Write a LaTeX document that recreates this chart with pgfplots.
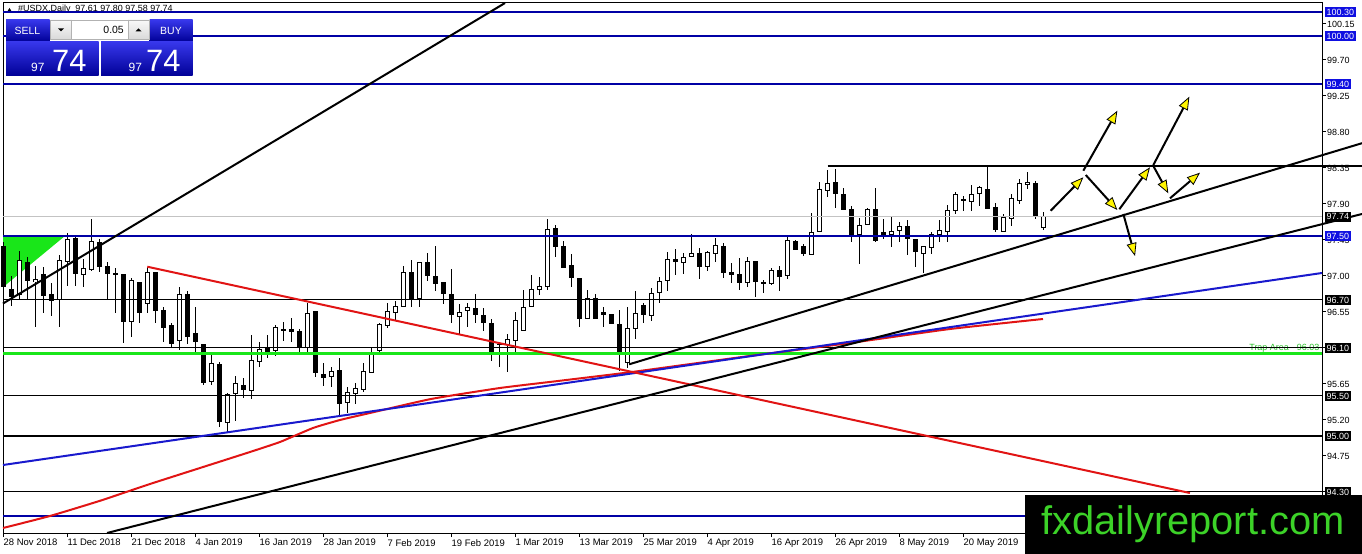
\documentclass[border=0pt]{standalone}
\usepackage{pgfplots}
\pgfplotsset{compat=1.18}
\usepackage{pgfplotstable}
\usepackage{fontspec}
\setmainfont{Liberation Sans}
\usetikzlibrary{arrows.meta}
\definecolor{navy}{RGB}{0,0,165}
\definecolor{tblue}{RGB}{25,25,205}
\definecolor{tred}{RGB}{225,20,20}
\definecolor{lgreen}{RGB}{25,230,25}
\definecolor{trapgreen}{RGB}{40,190,40}
\definecolor{boxblue}{RGB}{15,15,225}
\definecolor{logogreen}{RGB}{60,210,40}
\definecolor{arrowyellow}{RGB}{255,245,0}
\definecolor{bidgray}{RGB}{195,195,195}
\definecolor{pantop}{RGB}{55,55,235}
\definecolor{panbot}{RGB}{0,0,150}

\pgfplotstableread{
k o h l c
0 97.37 97.42 96.82 96.87
1 96.833 97.00 96.625 96.75
2 96.763 97.317 96.70 97.192
3 97.167 97.233 96.70 96.95
4 96.929 97.125 96.367 96.958
5 97.025 97.117 96.542 96.754
6 96.771 96.917 96.50 96.70
7 96.708 97.263 96.358 97.192
8 97.179 97.533 96.875 97.458
9 97.471 97.483 96.875 97.033
10 97.025 97.208 96.858 97.096
11 97.083 97.708 97.067 97.429
12 97.421 97.458 97.054 97.125
13 97.125 97.175 96.70 97.033
14 97.03 97.096 96.542 97.02
15 97.013 97.02 96.167 96.429
16 96.429 96.971 96.242 96.938
17 96.921 96.93 96.408 96.542
18 96.65 97.117 96.533 97.046
19 97.042 97.05 96.417 96.567
20 96.575 96.608 96.179 96.358
21 96.383 96.408 96.10 96.158
22 96.20 96.867 96.075 96.771
23 96.763 96.817 96.15 96.25
24 96.275 96.608 96.054 96.179
25 96.15 96.155 95.637 95.667
26 95.687 96.025 95.637 95.908
27 95.896 95.929 95.108 95.179
28 95.167 95.542 95.033 95.521
29 95.533 95.75 95.192 95.658
30 95.637 95.721 95.471 95.583
31 95.567 96.263 95.458 95.95
32 95.929 96.179 95.858 96.083
33 96.092 96.263 95.971 96.054
34 96.063 96.388 96.00 96.358
35 96.333 96.429 96.192 96.313
36 96.333 96.471 96.179 96.30
37 96.313 96.333 96.054 96.117
38 96.104 96.667 96.054 96.533
39 96.554 96.567 95.733 95.792
40 95.771 95.908 95.625 95.733
41 95.742 95.867 95.608 95.804
42 95.825 95.971 95.242 95.408
43 95.417 95.608 95.292 95.542
44 95.533 95.658 95.40 95.596
45 95.583 95.908 95.554 95.804
46 95.792 96.108 95.79 96.042
47 96.067 96.408 96.054 96.396
48 96.388 96.667 96.346 96.554
49 96.546 96.692 96.45 96.625
50 96.617 97.125 96.61 97.046
51 97.042 97.20 96.617 96.721
52 96.721 97.179 96.617 97.171
53 97.171 97.292 96.942 97.004
54 97.0 97.375 96.817 96.908
55 96.921 96.93 96.65 96.783
56 96.771 97.083 96.408 96.513
57 96.492 96.65 96.275 96.546
58 96.567 96.658 96.358 96.608
59 96.596 96.775 96.408 96.521
60 96.513 96.604 96.317 96.421
61 96.408 96.458 95.942 96.042
62 96.15 96.167 95.867 96.14
63 96.15 96.275 95.804 96.208
64 96.192 96.554 96.033 96.45
65 96.317 96.825 96.31 96.608
66 96.617 97.012 96.608 96.825
67 96.825 96.992 96.763 96.867
68 96.867 97.708 96.825 97.583
69 97.596 97.638 97.242 97.367
70 97.375 97.442 97.10 97.108
71 97.125 97.275 96.858 96.983
72 96.971 96.98 96.367 96.471
73 96.471 96.825 96.465 96.721
74 96.721 96.775 96.465 96.471
75 96.542 96.617 96.367 96.521
76 96.525 96.53 96.40 96.408
77 96.40 96.575 95.817 96.042
78 95.917 96.617 95.846 96.338
79 96.346 96.817 96.208 96.533
80 96.637 96.667 96.408 96.521
81 96.504 96.846 96.442 96.783
82 96.792 96.983 96.667 96.937
83 96.95 97.304 96.817 97.208
84 97.20 97.338 97.013 97.179
85 97.171 97.292 97.025 97.233
86 97.25 97.521 97.242 97.283
87 97.283 97.346 96.958 97.117
88 97.117 97.317 97.067 97.296
89 97.283 97.471 97.179 97.379
90 97.375 97.408 96.971 97.042
91 97.042 97.158 96.908 97.025
92 97.013 97.221 96.825 96.917
93 96.917 97.242 96.867 97.179
94 97.179 97.18 96.742 96.929
95 96.92 96.95 96.792 96.915
96 96.908 97.096 96.888 97.075
97 97.075 97.125 96.817 96.992
98 97.004 97.483 96.958 97.45
99 97.429 97.45 97.333 97.333
100 97.375 97.40 97.25 97.283
101 97.271 97.792 97.265 97.546
102 97.554 98.179 97.55 98.083
103 98.075 98.325 97.983 98.158
104 98.171 98.333 97.846 98.033
105 98.025 98.096 97.833 97.833
106 97.833 97.875 97.429 97.513
107 97.513 97.721 97.15 97.629
108 97.646 97.854 97.638 97.833
109 97.833 98.096 97.429 97.45
110 97.546 97.708 97.458 97.513
111 97.525 97.733 97.367 97.554
112 97.567 97.679 97.429 97.617
113 97.62 97.70 97.26 97.47
114 97.45 97.455 97.117 97.304
115 97.283 97.38 97.033 97.375
116 97.354 97.546 97.271 97.521
117 97.521 97.70 97.42 97.567
118 97.554 97.888 97.429 97.825
119 97.813 98.046 97.77 98.013
120 97.95 98.004 97.813 97.94
121 97.938 98.138 97.813 98.02
122 98.033 98.129 97.879 98.104
123 98.088 98.367 97.846 97.846
124 97.858 97.908 97.546 97.588
125 97.563 97.77 97.546 97.733
126 97.721 98.021 97.629 97.971
127 97.95 98.2125 97.896 98.158
128 98.146 98.296 98.088 98.171
129 98.158 98.1875 97.7125 97.742
130 97.61 97.80 97.58 97.74
}\candles

\pgfplotstableread{
k p
-0.0625 93.85
5.81 94.0
12.06 94.19
18.31 94.40
24.56 94.60
30.81 94.80
34.56 94.925
38.69 95.10
42.06 95.20
45.81 95.2875
53.44 95.4625
62.06 95.60
69.31 95.6875
78.56 95.80
92.31 95.9875
105.81 96.1625
118.31 96.3375
129.94 96.4625
}\ma

\begin{document}
\begin{tikzpicture}
\useasboundingbox (0,0) rectangle (1362bp,554bp);
% title (drawn first, lines cross over it)
\begin{scope}[x=1bp,y=-1bp,yshift=554bp]
\fill[black] (7,12) -- (12,12) -- (9.5,8) -- cycle;
\node[anchor=west, inner sep=0pt, font=\fontsize{9}{9}\selectfont] at (18,9.5) {\#USDX,Daily\ \ 97.61 97.80 97.58 97.74};
\end{scope}

\begin{axis}[
  at={(3bp,21bp)}, anchor=south west,
  scale only axis, width=1319bp, height=530bp,
  xmin=-0.0625, xmax=164.8125, ymin=93.7875, ymax=100.4125,
  clip=false,
  axis line style={black, line width=1bp},
  xtick={0,8,16,24,32,40,48,56,64,72,80,88,96,104,112,120},
  xticklabels={28 Nov 2018, 11 Dec 2018, 21 Dec 2018, 4 Jan 2019, 16 Jan 2019, 28 Jan 2019, 7 Feb 2019, 19 Feb 2019, 1 Mar 2019, 13 Mar 2019, 25 Mar 2019, 4 Apr 2019, 16 Apr 2019, 26 Apr 2019, 8 May 2019, 20 May 2019},
  xtick pos=lower, ytick pos=right, yticklabel pos=right,
  ytick={94.30,94.75,95.20,95.65,96.10,96.55,97.00,97.45,97.90,98.35,98.80,99.25,99.70,100.15},
  tick align=outside, major tick length=4bp,
  tick style={black, line width=1bp},
  xticklabel style={anchor=north west, inner sep=0pt, font=\fontsize{9.5}{10}\selectfont, xshift=0bp, yshift=-2bp},
  yticklabel style={anchor=west, inner sep=0pt, font=\fontsize{9}{10}\selectfont, xshift=1bp},
  /pgf/number format/.cd, fixed, fixed zerofill, precision=2, assume math mode=true,
]
% green triangle (background)
\addplot[draw=none, fill=lgreen] coordinates {(-0.0625,97.51) (7.8,97.51) (-0.0625,96.86)} -- cycle;

% candles: wicks, bodies, white interiors of rising days
\addplot[draw=none, error bars/.cd, y dir=both, y explicit, error mark=none,
  error bar style={draw=black, line width=1bp}]
  table[x=k, y expr={(\thisrow{h}+\thisrow{l})/2}, y error expr={(\thisrow{h}-\thisrow{l})/2}] {\candles};
\addplot[draw=none, error bars/.cd, y dir=both, y explicit, error mark=none,
  error bar style={draw=black, line width=5bp, line cap=butt}]
  table[x=k, y expr={(\thisrow{o}+\thisrow{c})/2}, y error expr={abs(\thisrow{c}-\thisrow{o})/2+0.00625}] {\candles};
\addplot[draw=none, error bars/.cd, y dir=both, y explicit, error mark=none,
  error bar style={draw=white, line width=3bp, line cap=butt}]
  table[x=k, y expr={(\thisrow{o}+\thisrow{c})/2}, y error expr={max((\thisrow{c}-\thisrow{o})/2-0.00625,0)}] {\candles};

% label of the trap line
\node[anchor=base east, inner sep=0pt, text=trapgreen, font=\fontsize{9}{9}\selectfont] at (axis cs:164.5,96.0625) {Trap Area - 96.03};

% horizontal levels
\addplot[bidgray, line width=1bp] coordinates {(-0.0625,97.74) (164.8125,97.74)};
\pgfplotsinvokeforeach{100.30,100.00,99.40,97.50,94.00}{
  \addplot[navy, line width=2bp] coordinates {(-0.0625,#1) (164.8125,#1)};
}
\pgfplotsinvokeforeach{96.70,96.10,95.50,94.30}{
  \addplot[black, line width=1bp] coordinates {(-0.0625,#1) (164.8125,#1)};
}
\addplot[black, line width=2bp] coordinates {(-0.0625,95.00) (164.8125,95.00)};
\addplot[lgreen, line width=3bp] coordinates {(-0.0625,96.03) (164.8125,96.03)};
\addplot[black, line width=2bp] coordinates {(103,98.375) (169.8125,98.375)};

% moving average
\addplot[tred, line width=2bp, smooth, tension=0.3] table[x=k, y=p] {\ma};

% trend lines
\addplot[tblue, line width=2bp] coordinates {(-0.0625,94.6375) (164.8125,97.0375)};
\addplot[tred, line width=2bp] coordinates {(17.975,97.116) (148.3,94.2875)};
\addplot[black, line width=2bp] coordinates {(-0.0625,96.656) (62.69,100.4125)};
\addplot[black, line width=2bp] coordinates {(78.2,95.896) (169.8125,98.66)};
\addplot[black, line width=2bp] coordinates {(12.94,93.7875) (169.8125,97.775)};

% scenario arrows
\pgfplotsset{scen/.style={black, line width=2bp, -{Triangle[length=13bp,width=10bp,fill=arrowyellow,line width=0.8bp]}}}
\addplot[scen] coordinates {(130.90,97.816) (134.98,98.234)};
\addplot[scen] coordinates {(134.98,98.316) (139.23,99.066)};
\addplot[scen] coordinates {(135.28,98.2625) (139.23,97.825)};
\addplot[scen] coordinates {(139.98,97.775) (141.44,97.25)};
\addplot[scen] coordinates {(139.48,97.834) (143.31,98.359)};
\addplot[scen] coordinates {(143.73,98.3875) (148.23,99.241)};
\addplot[scen] coordinates {(143.73,98.375) (145.6,98.034)};
\addplot[scen] coordinates {(145.81,97.971) (149.56,98.291)};
\end{axis}

\begin{scope}[x=1bp,y=-1bp,yshift=554bp]
% trading panel
\shade[top color=pantop, bottom color=panbot] (6,20) rectangle (49.5,41.5);
\node[text=white, inner sep=0pt, font=\fontsize{10.5}{10.5}\selectfont] at (27.5,30.5) {SELL};
\shade[top color=pantop, bottom color=panbot] (149.5,20) rectangle (192.5,41.5);
\node[text=white, inner sep=0pt, font=\fontsize{10.5}{10.5}\selectfont] at (171,30.5) {BUY};
\shade[top color=gray!5, bottom color=gray!30] (50,20) rectangle (71.5,39.5);
\fill[white] (71.5,20) rectangle (128,39.5);
\shade[top color=gray!5, bottom color=gray!30] (128,20) rectangle (149,39.5);
\draw[gray!60, line width=0.6bp] (50,20) rectangle (149,39.5);
\draw[gray!60, line width=0.6bp] (71.5,20) -- (71.5,39.5) (128,20) -- (128,39.5);
\fill[black] (58,28.5) -- (64,28.5) -- (61,31.5) -- cycle;
\fill[black] (135.5,31.5) -- (141.5,31.5) -- (138.5,28.5) -- cycle;
\node[anchor=east, inner sep=0pt, font=\fontsize{10.5}{10.5}\selectfont] at (124,29.5) {0.05};
\shade[top color=pantop, bottom color=panbot] (6,42) rectangle (98.5,76);
\shade[top color=pantop, bottom color=panbot] (101,42) rectangle (192.5,76);
\node[anchor=base west, inner sep=0pt, text=white, font=\fontsize{12}{12}\selectfont] at (31,72) {97};
\node[anchor=base west, inner sep=0pt, text=white, font=\fontsize{31}{31}\selectfont] at (52,72) {74};
\node[anchor=base west, inner sep=0pt, text=white, font=\fontsize{12}{12}\selectfont] at (128.5,72) {97};
\node[anchor=base west, inner sep=0pt, text=white, font=\fontsize{31}{31}\selectfont] at (146,72) {74};

% price level boxes on the price scale
\foreach \py/\txt/\col in {12/100.30/boxblue, 36/100.00/boxblue, 84/99.40/boxblue, 216.8/97.74/black, 236/97.50/boxblue, 300/96.70/black, 348/96.10/black, 396/95.50/black, 436/95.00/black, 492/94.30/black}{
  \node[fill=\col, text=white, anchor=west, inner xsep=1.5bp, inner ysep=1.3bp, text height=6.6bp, text depth=0.3bp, font=\fontsize{9}{9}\selectfont] at (1325,\py) {\txt};
}

% logo
\fill[black] (1025,495) rectangle (1362,554);
\node[anchor=base, inner sep=0pt, text=logogreen, font=\fontsize{40}{40}\selectfont] at (1193,535) {fxdailyreport.com};
\end{scope}
\end{tikzpicture}
\end{document}
